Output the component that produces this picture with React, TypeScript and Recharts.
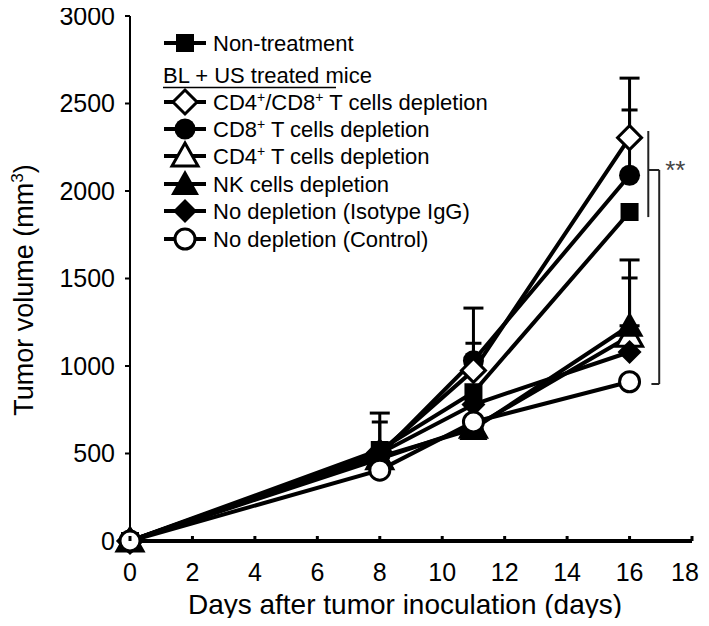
import React from "react";
import {
  LineChart,
  Line,
  XAxis,
  YAxis,
  ErrorBar,
  Legend,
  ReferenceLine,
} from "recharts";

const days = [0, 8, 11, 16];
const nonTreatment = [0, 520, 850, 1880];
const cd4cd8Depletion = [0, 505, 975, 2305];
const cd8Depletion = [0, 490, 1030, 2090];
const cd4Depletion = [0, 470, 650, 1170];
const nkDepletion = [0, 480, 640, 1230];
const isotypeIgG = [0, 500, 780, 1080];
const control = [0, 405, 680, 910];

// upper SD only (the lower halves are hidden behind the markers)
const cd4cd8Err = [0, 226, 356, 340];
const cd8Err = [0, 190, 100, 373];
const cd4Err = [0, 0, 0, 333];
const nkErr = [0, 0, 0, 376];

const xTicks = [0, 2, 4, 6, 8, 10, 12, 14, 16, 18];
const yTicks = [0, 500, 1000, 1500, 2000, 2500, 3000];

const data = days.map((day, i) => ({
  day,
  nonTreatment: nonTreatment[i],
  cd4cd8: cd4cd8Depletion[i],
  cd8: cd8Depletion[i],
  cd4: cd4Depletion[i],
  nk: nkDepletion[i],
  isotype: isotypeIgG[i],
  control: control[i],
  cd4cd8Err: [0, cd4cd8Err[i]],
  cd8Err: [0, cd8Err[i]],
  cd4Err: [0, cd4Err[i]],
  nkErr: [0, nkErr[i]],
}));

const FONT = "'Liberation Sans', Arial, sans-serif";

type Kind =
  | "square"
  | "diamondOpen"
  | "circle"
  | "triangleOpen"
  | "triangle"
  | "diamond"
  | "circleOpen";

function marker(kind: Kind, cx: number, cy: number) {
  switch (kind) {
    case "square":
      return <rect x={cx - 9} y={cy - 9} width={18} height={18} fill="#000" />;
    case "diamondOpen":
      return (
        <polygon
          points={`${cx},${cy - 12} ${cx + 12},${cy} ${cx},${cy + 12} ${cx - 12},${cy}`}
          fill="#fff"
          stroke="#000"
          strokeWidth={3}
        />
      );
    case "circle":
      return <circle cx={cx} cy={cy} r={10.5} fill="#000" />;
    case "triangleOpen":
      return (
        <polygon
          points={`${cx},${cy - 13} ${cx + 13},${cy + 10} ${cx - 13},${cy + 10}`}
          fill="#fff"
          stroke="#000"
          strokeWidth={3}
        />
      );
    case "triangle":
      return (
        <polygon
          points={`${cx},${cy - 14} ${cx + 14},${cy + 11} ${cx - 14},${cy + 11}`}
          fill="#000"
        />
      );
    case "diamond":
      return (
        <polygon
          points={`${cx},${cy - 12} ${cx + 12},${cy} ${cx},${cy + 12} ${cx - 12},${cy}`}
          fill="#000"
        />
      );
    case "circleOpen":
      return <circle cx={cx} cy={cy} r={10} fill="#fff" stroke="#000" strokeWidth={3} />;
  }
}

const dot = (kind: Kind) => (p: any) => (
  <g key={`${kind}-${p.index}`}>{marker(kind, p.cx, p.cy)}</g>
);

// legend rows, in the order of the original figure
const legendRows: { kind: Kind; label: React.ReactNode }[] = [
  { kind: "square", label: "Non-treatment" },
  {
    kind: "diamondOpen",
    label: (
      <>
        CD4<tspan dy={-8} fontSize={14}>+</tspan>
        <tspan dy={8}>/CD8</tspan>
        <tspan dy={-8} fontSize={14}>+</tspan>
        <tspan dy={8}> T cells depletion</tspan>
      </>
    ),
  },
  {
    kind: "circle",
    label: (
      <>
        CD8<tspan dy={-8} fontSize={14}>+</tspan>
        <tspan dy={8}> T cells depletion</tspan>
      </>
    ),
  },
  {
    kind: "triangleOpen",
    label: (
      <>
        CD4<tspan dy={-8} fontSize={14}>+</tspan>
        <tspan dy={8}> T cells depletion</tspan>
      </>
    ),
  },
  { kind: "triangle", label: "NK cells depletion" },
  { kind: "diamond", label: "No depletion (Isotype IgG)" },
  { kind: "circleOpen", label: "No depletion (Control)" },
];
const legendRowY = [43, 102, 129, 156, 184, 211, 239];

function LegendContent() {
  return (
    <svg width={709} height={270} style={{ display: "block" }}>
      {legendRows.map((row, i) => (
        <g key={i}>
          <line x1={164} x2={206} y1={legendRowY[i]} y2={legendRowY[i]} stroke="#000" strokeWidth={4} />
          {marker(row.kind, 185, legendRowY[i])}
          <text x={213} y={legendRowY[i] + 8} fontFamily={FONT} fontSize={22} fill="#000">
            {row.label}
          </text>
        </g>
      ))}
      <text x={163} y={83} fontFamily={FONT} fontSize={22} fill="#000">
        BL + US treated mice
      </text>
      <line x1={163} x2={336} y1={87.5} y2={87.5} stroke="#000" strokeWidth={1.5} />
    </svg>
  );
}

function XTick(props: any) {
  const { x, y, payload } = props;
  // keep the last label inside the frame
  const tx = Math.min(x, 685);
  return (
    <g>
      <line x1={x} x2={x} y1={y - 5} y2={y} stroke="#000" strokeWidth={3} />
      <text x={tx} y={y + 40} textAnchor="middle" fontFamily={FONT} fontSize={25} fill="#000">
        {payload.value}
      </text>
    </g>
  );
}

function YLabel() {
  const cx = 33;
  const cy = 290;
  return (
    <text
      x={cx}
      y={cy}
      transform={`rotate(-90, ${cx}, ${cy})`}
      textAnchor="middle"
      fontFamily={FONT}
      fontSize={27}
      fill="#000"
    >
      Tumor volume (mm<tspan dy={-10} fontSize={17}>3</tspan>
      <tspan dy={10}>)</tspan>
    </text>
  );
}

function XLabel() {
  return (
    <text x={405} y={614} textAnchor="middle" fontFamily={FONT} fontSize={28} fill="#000">
      Days after tumor inoculation (days)
    </text>
  );
}

export default function App() {
  return (
    <div style={{ margin: "-8px -8px -8px -8px", width: 709, height: 626, overflow: "hidden" }}>
      <LineChart
        width={709}
        height={626}
        data={data}
        margin={{ top: 16, right: 17, bottom: 10, left: 0 }}
        style={{ fontFamily: FONT }}
      >
        <XAxis
          dataKey="day"
          type="number"
          domain={[0, 18]}
          ticks={xTicks}
          interval={0}
          height={75}
          tickSize={0}
          tickMargin={0}
          tickLine={false}
          tick={<XTick />}
          axisLine={{ stroke: "#000", strokeWidth: 4 }}
          label={<XLabel />}
        />
        <YAxis
          type="number"
          domain={[0, 3000]}
          ticks={yTicks}
          interval={0}
          width={130}
          tickSize={5}
          tickMargin={10}
          tickLine={{ stroke: "#000", strokeWidth: 2 }}
          axisLine={{ stroke: "#000", strokeWidth: 2 }}
          tick={{ fill: "#000", fontSize: 25, fontFamily: FONT }}
          label={<YLabel />}
        />
        <Legend
          layout="vertical"
          align="center"
          verticalAlign="middle"
          content={<LegendContent />}
          wrapperStyle={{ position: "absolute", left: 0, top: 0, width: 709, height: 270 }}
        />
        <ReferenceLine
          segment={[{ x: 16.6, y: 2343 }, { x: 16.6, y: 1851 }]}
          stroke="#222"
          strokeWidth={2}
        />
        <ReferenceLine
          segment={[{ x: 16.6, y: 2120 }, { x: 16.95, y: 2120 }]}
          stroke="#222"
          strokeWidth={2}
          label={{ value: "**", position: "right", offset: 6, fill: "#444", fontSize: 26, fontFamily: FONT }}
        />
        <ReferenceLine
          segment={[{ x: 16.95, y: 2120 }, { x: 16.95, y: 897 }]}
          stroke="#222"
          strokeWidth={2}
        />
        <ReferenceLine
          segment={[{ x: 16.7, y: 897 }, { x: 16.95, y: 897 }]}
          stroke="#222"
          strokeWidth={2}
        />
        <Line dataKey="nonTreatment" name="Non-treatment" stroke="#000" strokeWidth={4} dot={dot("square")} isAnimationActive={false} />
        <Line dataKey="cd8" name="CD8+ T cells depletion" stroke="#000" strokeWidth={4} dot={dot("circle")} isAnimationActive={false}>
          <ErrorBar dataKey="cd8Err" direction="y" width={8} stroke="#000" strokeWidth={3} />
        </Line>
        <Line dataKey="cd4cd8" name="CD4+/CD8+ T cells depletion" stroke="#000" strokeWidth={4} dot={dot("diamondOpen")} isAnimationActive={false}>
          <ErrorBar dataKey="cd4cd8Err" direction="y" width={10} stroke="#000" strokeWidth={3} />
        </Line>
        <Line dataKey="cd4" name="CD4+ T cells depletion" stroke="#000" strokeWidth={4} dot={dot("triangleOpen")} isAnimationActive={false}>
          <ErrorBar dataKey="cd4Err" direction="y" width={8} stroke="#000" strokeWidth={3} />
        </Line>
        <Line dataKey="nk" name="NK cells depletion" stroke="#000" strokeWidth={4} dot={dot("triangle")} isAnimationActive={false}>
          <ErrorBar dataKey="nkErr" direction="y" width={10} stroke="#000" strokeWidth={3} />
        </Line>
        <Line dataKey="isotype" name="No depletion (Isotype IgG)" stroke="#000" strokeWidth={4} dot={dot("diamond")} isAnimationActive={false} />
        <Line dataKey="control" name="No depletion (Control)" stroke="#000" strokeWidth={4} dot={dot("circleOpen")} isAnimationActive={false} />
      </LineChart>
    </div>
  );
}
